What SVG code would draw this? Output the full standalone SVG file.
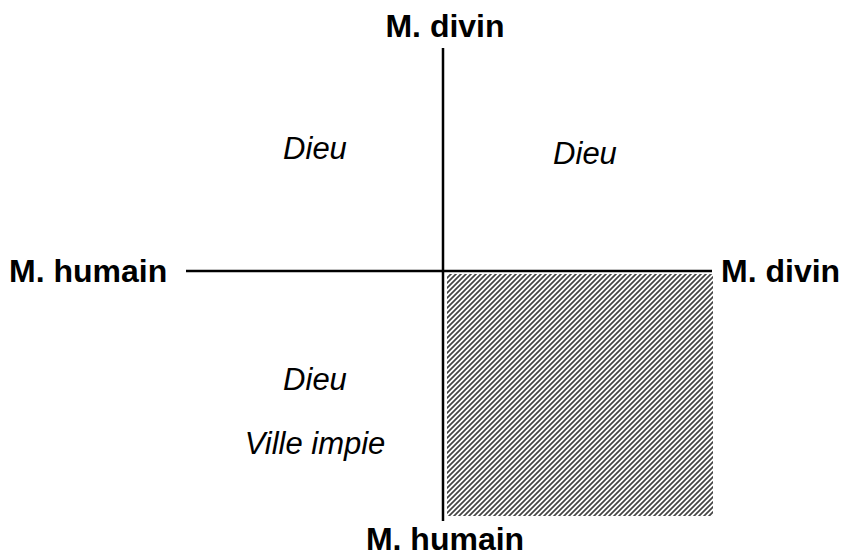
<svg xmlns="http://www.w3.org/2000/svg" width="852" height="559" viewBox="0 0 852 559">
  <style>
    .axis-label { font-family: "Liberation Sans", Arial, sans-serif; font-weight: bold; font-size: 32px; fill: #000; }
    .region { font-family: "Liberation Sans", Arial, sans-serif; font-style: italic; font-size: 31px; fill: #000; text-anchor: middle; }
    .axis { stroke: #000; stroke-width: 2.5; fill: none; }
  </style>
  <defs>
    <pattern id="hatch" patternUnits="userSpaceOnUse" width="5" height="5">
      <path d="M-1,6 L6,-1 M-1,1 L1,-1 M4,6 L6,4" stroke="#444" stroke-width="1.7"/>
    </pattern>
  </defs>
  <rect width="852" height="559" fill="#fff"/>

  <!-- shaded lower-right quadrant -->
  <g id="shaded-quadrant">
    <rect x="447" y="274" width="266" height="242" fill="url(#hatch)"/>
  </g>

  <!-- axes -->
  <g id="connectors">
    <line class="axis" x1="443" y1="48" x2="443" y2="521"/>
    <line class="axis" x1="186" y1="271" x2="712" y2="271"/>
  </g>

  <g id="label-top"><text class="axis-label" x="445" y="37" text-anchor="middle">M. divin</text></g>
  <g id="label-left"><text class="axis-label" x="9" y="282">M. humain</text></g>
  <g id="label-right"><text class="axis-label" x="721" y="282">M. divin</text></g>
  <g id="label-bottom"><text class="axis-label" x="445" y="550" text-anchor="middle">M. humain</text></g>

  <g id="dieu-upper-left"><text class="region" x="315" y="159">Dieu</text></g>
  <g id="dieu-upper-right"><text class="region" x="585" y="164">Dieu</text></g>
  <g id="dieu-lower-left"><text class="region" x="315" y="390">Dieu</text></g>
  <g id="ville-impie"><text class="region" x="315" y="454">Ville impie</text></g>
</svg>
